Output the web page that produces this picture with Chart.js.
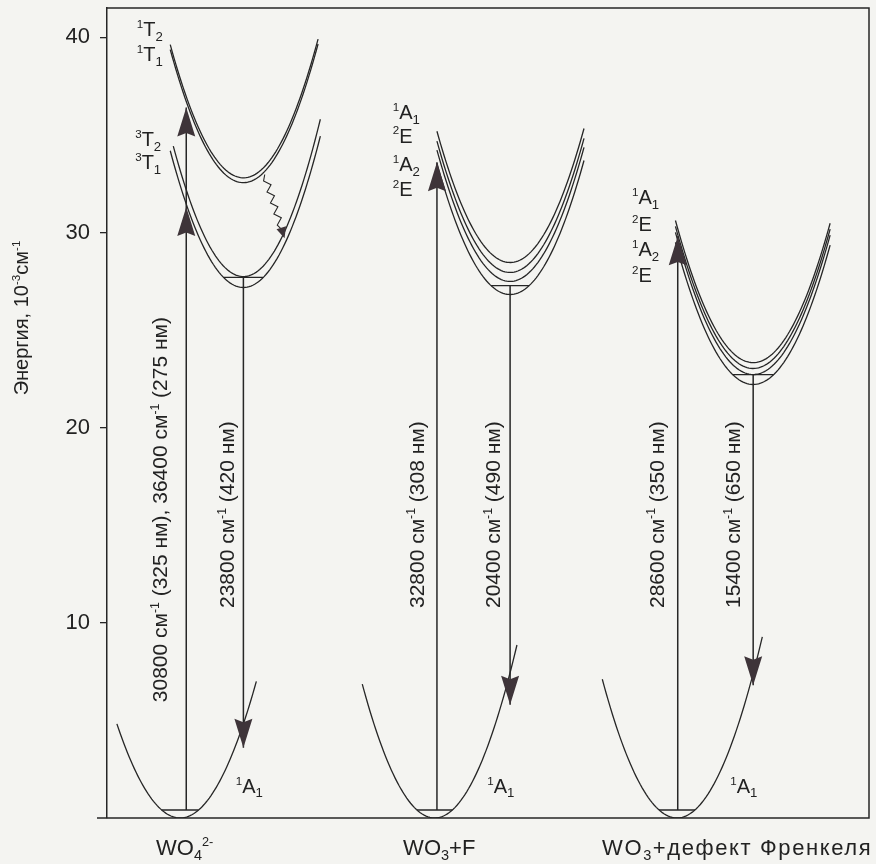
<!DOCTYPE html>
<html>
<head>
<meta charset="utf-8">
<script src="https://cdn.jsdelivr.net/npm/chart.js@4.4.1/dist/chart.umd.min.js"></script>
<style>
  html, body { margin: 0; padding: 0; background: #f4f4f1; }
</style>
</head>
<body>
<canvas id="energyChart" width="876" height="864"></canvas>
<script>
// Data: energy in 10^3 cm^-1, x is a configuration coordinate (0..10)

const systems = ["WO_{4}^{2-}", "WO_{3}+F", "WO_{3}+дефект Френкеля"];
const yTicks = [10, 20, 30, 40];

// ground state curves
const groundCentre = [0.96, 4.30, 7.48];
const groundK = [7.0, 7.6, 7.4];
const groundLeft = [0.13, 3.35, 6.50];
const groundRight = [1.96, 5.38, 8.60];
const groundLevel = [0.41, 0.41, 0.41];

// excited state curves, four per system
const excitedCentre = [1.79, 5.29, 8.48];
const excitedMin = [
    [32.80, 32.55, 27.74, 27.18],
    [28.46, 27.95, 27.49, 26.82],
    [23.33, 23.03, 22.72, 22.21]
];
const excitedK = [
    [7.4, 7.4, 7.9, 7.6],
    [7.3, 7.3, 7.3, 7.3],
    [7.0, 7.0, 7.0, 7.0]
];
const excitedLeft = [
    [0.83, 0.83, 0.87, 0.83],
    [4.33, 4.33, 4.33, 4.33],
    [7.46, 7.46, 7.46, 7.46]
];
const excitedRight = [
    [2.77, 2.77, 2.80, 2.80],
    [6.26, 6.26, 6.26, 6.26],
    [9.49, 9.49, 9.49, 9.49]
];
const relaxedLevel = [27.70, 27.28, 22.72];

// transitions
const absorptionX = [1.04, 4.33, 7.49];
const absorptionTips = [[31.3, 36.4], [33.6], [29.8]];
const emissionTip = [3.6, 5.8, 6.8];
const relaxFrom = [2.07, 32.97];
const relaxTo = [2.33, 29.7];

const absorptionText = [
    "30800 см^{-1} (325 нм), 36400 см^{-1} (275 нм)",
    "32800 см^{-1} (308 нм)",
    "28600 см^{-1} (350 нм)"
];
const emissionText = [
    "23800 см^{-1} (420 нм)",
    "20400 см^{-1} (490 нм)",
    "15400 см^{-1} (650 нм)"
];
const stateText = [
    ["^{1}T_{2}", "^{1}T_{1}", "^{3}T_{2}", "^{3}T_{1}"],
    ["^{1}A_{1}", "^{2}E", "^{1}A_{2}", "^{2}E"],
    ["^{1}A_{1}", "^{2}E", "^{1}A_{2}", "^{2}E"]
];
const groundText = "^{1}A_{1}";

// Layout of annotations (data coordinates)

const stateLabelPos = [
    [[0.39, 40.05], [0.39, 38.77], [0.37, 34.41], [0.37, 33.23]],
    [[3.75, 35.79], [3.75, 34.6], [3.75, 33.13], [3.75, 31.85]],
    [[6.89, 31.44], [6.89, 30.05], [6.89, 28.77], [6.89, 27.44]]
];
const groundLabelPos = [[1.69, 1.28], [4.99, 1.28], [8.18, 1.28]];
const absorptionLabelPos = [[0.70, 15.8], [4.07, 15.54], [7.22, 15.54]];
const emissionLabelPos = [[1.58, 15.54], [5.07, 15.54], [8.22, 15.54]];
const systemLabelX = [1.02, 4.36, 8.27];
const systemSpacing = [0, 0, 1.6];

const paper = "#f4f4f1";
const ink = "#262626";
const headInk = "#3e3439";
const textInk = "#222";
const family = '"Liberation Sans", Arial, sans-serif';

// Helpers

function parabola(c, e0, k, xl, xr) {
    const pts = [];
    const n = 80;
    for (let i = 0; i <= n; i++) {
        const x = xl + (xr - xl) * i / n;
        pts.push({ x: x, y: e0 + k * (x - c) * (x - c) });
    }
    return pts;
}

function levelBar(c, e0, k, level) {
    const half = Math.sqrt((level - e0) / k);
    return [{ x: c - half, y: level }, { x: c + half, y: level }];
}

function lineSet(points, width) {
    return {
        data: points,
        showLine: true,
        borderColor: ink,
        borderWidth: width || 1.3,
        pointRadius: 0,
        tension: 0
    };
}

// rich text: ^{..} superscript, _{..} subscript
function parseRich(s) {
    const segs = [];
    const re = /(\^|_)\{([^}]*)\}/g;
    let last = 0, m;
    while ((m = re.exec(s)) !== null) {
        if (m.index > last) segs.push({ t: s.slice(last, m.index), mode: 0 });
        segs.push({ t: m[2], mode: m[1] === "^" ? 1 : -1 });
        last = re.lastIndex;
    }
    if (last < s.length) segs.push({ t: s.slice(last), mode: 0 });
    return segs;
}

function segSize(sg, size) {
    return sg.mode === 1 ? size * 0.58 : (sg.mode === -1 ? size * 0.66 : size);
}

function richWidth(ctx, segs, size) {
    let w = 0;
    for (const sg of segs) {
        ctx.font = segSize(sg, size) + "px " + family;
        w += ctx.measureText(sg.t).width;
    }
    return w;
}

function drawRich(ctx, s, x, y, size, align, spacing) {
    const segs = parseRich(s);
    ctx.letterSpacing = (spacing || 0) + "px";
    let cx = x;
    if (align === "center") cx = x - richWidth(ctx, segs, size) / 2;
    ctx.textAlign = "left";
    ctx.textBaseline = "alphabetic";
    for (const sg of segs) {
        ctx.font = segSize(sg, size) + "px " + family;
        const dy = sg.mode === 1 ? -size * 0.42 : (sg.mode === -1 ? size * 0.22 : 0);
        ctx.fillText(sg.t, cx, y + dy);
        cx += ctx.measureText(sg.t).width;
    }
    ctx.letterSpacing = "0px";
}

function arrowHead(ctx, x, yTip, dirY, len, half) {
    ctx.beginPath();
    ctx.moveTo(x, yTip);
    ctx.lineTo(x - half, yTip - dirY * len);
    ctx.lineTo(x, yTip - dirY * len * 0.88);
    ctx.lineTo(x + half, yTip - dirY * len);
    ctx.closePath();
    ctx.fill();
}

// Datasets

const datasets = [];
for (let i = 0; i < systems.length; i++) {
    datasets.push(lineSet(parabola(groundCentre[i], 0, groundK[i], groundLeft[i], groundRight[i])));
    datasets.push(lineSet(levelBar(groundCentre[i], 0, groundK[i], groundLevel[i])));
    for (let j = 0; j < excitedMin[i].length; j++) {
        datasets.push(lineSet(parabola(excitedCentre[i], excitedMin[i][j], excitedK[i][j], excitedLeft[i][j], excitedRight[i][j])));
    }
    const lowest = excitedMin[i].length - 1;
    datasets.push(lineSet(levelBar(excitedCentre[i], excitedMin[i][lowest], excitedK[i][lowest], relaxedLevel[i])));
    datasets.push(lineSet([
        { x: absorptionX[i], y: groundLevel[i] },
        { x: absorptionX[i], y: Math.max(...absorptionTips[i]) }
    ], 1.5));
    datasets.push(lineSet([
        { x: excitedCentre[i], y: relaxedLevel[i] },
        { x: excitedCentre[i], y: emissionTip[i] }
    ], 1.5));
}

// Plugin: paper, frame, arrows and text

const decor = {
    id: "decor",
    beforeDraw(chart) {
        const ctx = chart.ctx;
        ctx.save();
        ctx.fillStyle = paper;
        ctx.fillRect(0, 0, chart.width, chart.height);
        ctx.restore();
    },
    afterDraw(chart) {
        const ctx = chart.ctx;
        const xs = chart.scales.x, ys = chart.scales.y;
        const a = chart.chartArea;
        const px = v => xs.getPixelForValue(v);
        const py = v => ys.getPixelForValue(v);
        ctx.save();

        // frame
        ctx.strokeStyle = ink;
        ctx.lineWidth = 1.5;
        ctx.beginPath();
        ctx.moveTo(a.left - 10, a.bottom);
        ctx.lineTo(a.right, a.bottom);
        ctx.lineTo(a.right, a.top);
        ctx.lineTo(a.left, a.top);
        ctx.stroke();

        // arrowheads
        ctx.fillStyle = headInk;
        for (let i = 0; i < systems.length; i++) {
            for (const t of absorptionTips[i]) arrowHead(ctx, px(absorptionX[i]), py(t), -1, 29, 9);
            arrowHead(ctx, px(excitedCentre[i]), py(emissionTip[i]), 1, 29, 9);
        }

        // wavy relaxation arrow
        const x0 = px(relaxFrom[0]), y0 = py(relaxFrom[1]);
        const x1 = px(relaxTo[0]), y1 = py(relaxTo[1]);
        const dx = x1 - x0, dy = y1 - y0, L = Math.hypot(dx, dy);
        const ux = dx / L, uy = dy / L, nx = -uy, ny = ux;
        const steps = 10, bodyLen = L - 9;
        ctx.strokeStyle = ink;
        ctx.lineWidth = 1.1;
        ctx.beginPath();
        ctx.moveTo(x0, y0);
        for (let s = 1; s <= steps; s++) {
            const d = bodyLen * s / steps;
            const off = s === steps ? 0 : (s % 2 ? 3 : -3);
            ctx.lineTo(x0 + ux * d + nx * off, y0 + uy * d + ny * off);
        }
        ctx.stroke();
        ctx.beginPath();
        ctx.moveTo(x1, y1);
        ctx.lineTo(x1 - ux * 11 + nx * 5, y1 - uy * 11 + ny * 5);
        ctx.lineTo(x1 - ux * 11 - nx * 5, y1 - uy * 11 - ny * 5);
        ctx.closePath();
        ctx.fill();

        // state labels
        ctx.fillStyle = textInk;
        for (let i = 0; i < systems.length; i++) {
            stateText[i].forEach((s, j) => {
                const p = stateLabelPos[i][j];
                drawRich(ctx, s, px(p[0]), py(p[1]), 20, "left");
            });
            const g = groundLabelPos[i];
            drawRich(ctx, groundText, px(g[0]), py(g[1]), 20, "left");
        }

        // rotated transition labels
        const rotated = (s, p) => {
            ctx.save();
            ctx.translate(px(p[0]), py(p[1]));
            ctx.rotate(-Math.PI / 2);
            drawRich(ctx, s, 0, 7, 21, "center");
            ctx.restore();
        };
        for (let i = 0; i < systems.length; i++) {
            rotated(absorptionText[i], absorptionLabelPos[i]);
            rotated(emissionText[i], emissionLabelPos[i]);
        }

        // axis title
        ctx.save();
        ctx.translate(28, 318);
        ctx.rotate(-Math.PI / 2);
        drawRich(ctx, "Энергия, 10^{-3}см^{-1}", 0, 0, 20, "center");
        ctx.restore();

        // system names under the axis
        systems.forEach((s, i) => drawRich(ctx, s, px(systemLabelX[i]), 855, 22, "center", systemSpacing[i]));

        ctx.restore();
    }
};

// Config

const config = {
    type: "scatter",
    data: { datasets },
    options: {
        responsive: false,
        animation: false,
        devicePixelRatio: 1,
        layout: { padding: { top: 8, right: 7, bottom: 46, left: 0 } },
        plugins: {
            legend: { display: false },
            tooltip: { enabled: false }
        },
        scales: {
            x: {
                type: "linear",
                min: 0,
                max: 10,
                display: false
            },
            y: {
                type: "linear",
                min: 0,
                max: 41.5,
                afterFit: scale => {
                    scale.width = 107;
                    scale.paddingTop = 0;
                    scale.paddingBottom = 0;
                },
                afterBuildTicks: scale => { scale.ticks = yTicks.map(v => ({ value: v })); },
                ticks: {
                    color: textInk,
                    padding: 10,
                    font: { family: "Liberation Sans", size: 22 }
                },
                grid: {
                    drawOnChartArea: false,
                    drawTicks: true,
                    tickLength: 7,
                    color: ink,
                    lineWidth: 1.3
                },
                border: { display: true, color: ink, width: 1.5 }
            }
        }
    },
    plugins: [decor]
};

new Chart(document.getElementById("energyChart"), config);
</script>
</body>
</html>
